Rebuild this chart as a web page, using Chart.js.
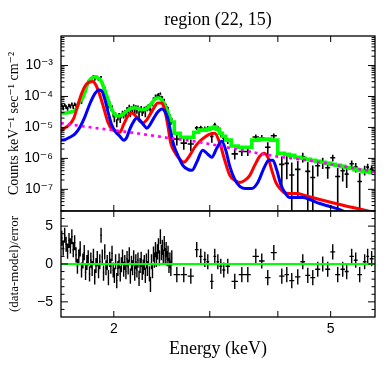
<!DOCTYPE html>
<html>
<head>
<meta charset="utf-8">
<script src="https://cdn.jsdelivr.net/npm/chart.js@4.4.1/dist/chart.umd.min.js"></script>
<style>
  html, body { margin: 0; padding: 0; background: #fff; }
  canvas { display: block; }
</style>
</head>
<body>
<canvas id="spectrum" width="392" height="370"></canvas>
<script>
// ---- spectrum bins (keV) ----
const binE = [
  1.605, 1.615, 1.625, 1.635, 1.645, 1.655, 1.665, 1.675, 1.685, 1.695,
  1.705, 1.715, 1.725, 1.735, 1.745, 1.755, 1.765, 1.775, 1.785, 1.795,
  1.805, 1.815, 1.825, 1.835, 1.845, 1.855, 1.865, 1.875, 1.885, 1.895,
  1.905, 1.915, 1.925, 1.935, 1.945, 1.955, 1.965, 1.975, 1.985, 1.995,
  2.005, 2.015, 2.025, 2.035, 2.045, 2.055, 2.065, 2.075, 2.085, 2.095,
  2.105, 2.115, 2.125, 2.135, 2.145, 2.155, 2.165, 2.175, 2.185, 2.195,
  2.205, 2.215, 2.225, 2.235, 2.245, 2.255, 2.265, 2.275, 2.285, 2.295,
  2.305, 2.315, 2.325, 2.335, 2.345, 2.355, 2.365, 2.375, 2.385, 2.395,
  2.405, 2.415, 2.425, 2.435, 2.445, 2.455, 2.465, 2.475, 2.485, 2.495,
  2.505, 2.515, 2.525, 2.535, 2.545, 2.555,
  2.610, 2.688, 2.769, 2.839, 2.888, 2.938, 2.975, 3.026, 3.064, 3.104,
  3.143, 3.183, 3.237, 3.334, 3.435, 3.523, 3.644, 3.737, 3.833, 3.932,
  4.067, 4.154, 4.242, 4.351, 4.444, 4.539, 4.636, 4.734, 4.835, 4.938,
  5.044, 5.151, 5.261, 5.350, 5.464, 5.558, 5.652, 5.772, 5.846, 5.945
];
const binHalf = [
  0.005, 0.005, 0.005, 0.005, 0.005, 0.005, 0.005, 0.005, 0.005, 0.005,
  0.005, 0.005, 0.005, 0.005, 0.005, 0.005, 0.005, 0.005, 0.005, 0.005,
  0.005, 0.005, 0.005, 0.005, 0.005, 0.005, 0.005, 0.005, 0.005, 0.005,
  0.005, 0.005, 0.005, 0.005, 0.005, 0.005, 0.005, 0.005, 0.005, 0.005,
  0.005, 0.005, 0.005, 0.005, 0.005, 0.005, 0.005, 0.005, 0.005, 0.005,
  0.005, 0.005, 0.005, 0.005, 0.005, 0.005, 0.005, 0.005, 0.005, 0.005,
  0.005, 0.005, 0.005, 0.005, 0.005, 0.005, 0.005, 0.005, 0.005, 0.005,
  0.005, 0.005, 0.005, 0.005, 0.005, 0.005, 0.005, 0.005, 0.005, 0.005,
  0.005, 0.005, 0.005, 0.005, 0.005, 0.005, 0.005, 0.005, 0.005, 0.005,
  0.005, 0.005, 0.005, 0.005, 0.005, 0.005,
  0.035, 0.036, 0.036, 0.022, 0.022, 0.018, 0.018, 0.022, 0.018, 0.018,
  0.020, 0.020, 0.030, 0.045, 0.045, 0.045, 0.050, 0.045, 0.045, 0.050,
  0.045, 0.040, 0.045, 0.050, 0.045, 0.048, 0.048, 0.050, 0.050, 0.052,
  0.052, 0.055, 0.050, 0.045, 0.050, 0.045, 0.055, 0.045, 0.035, 0.050
];
// counts keV^-1 s^-1 cm^-2
const counts = [
  5.09e-5, 4.25e-5, 5.34e-5, 4.57e-5, 4.09e-5, 5.16e-5, 4.77e-5, 5.72e-5, 4.69e-5, 5.67e-5,
  4.97e-5, 4.52e-5, 6.73e-5, 9.28e-5, 6.93e-5, 9.84e-5, 1.37e-4, 1.47e-4, 2.23e-4, 3.06e-4,
  2.92e-4, 3.87e-4, 3.77e-4, 4.58e-4, 3.64e-4, 4.15e-4, 4.34e-4, 3.53e-4, 3.66e-4, 4.28e-4,
  2.85e-4, 1.81e-4, 1.86e-4, 1.16e-4, 9.92e-5, 5.21e-5, 6.09e-5, 4.16e-5, 4.57e-5, 2.69e-5,
  1.97e-5, 2.58e-5, 1.43e-5, 2.08e-5, 2.50e-5, 1.81e-5, 2.41e-5, 3.02e-5, 2.46e-5, 3.13e-5,
  2.67e-5, 3.93e-5, 3.41e-5, 4.71e-5, 2.86e-5, 4.21e-5, 3.82e-5, 4.84e-5, 3.32e-5, 4.46e-5,
  3.54e-5, 4.41e-5, 2.61e-5, 3.73e-5, 4.22e-5, 3.04e-5, 3.52e-5, 3.95e-5, 2.83e-5, 4.31e-5,
  3.90e-5, 5.09e-5, 4.15e-5, 3.57e-5, 6.16e-5, 5.72e-5, 8.48e-5, 8.45e-5, 1.05e-4, 9.42e-5,
  1.07e-4, 1.17e-4, 9.73e-5, 1.24e-4, 9.48e-5, 9.32e-5, 7.24e-5, 7.71e-5, 5.61e-5, 5.27e-5,
  4.16e-5, 3.93e-5, 2.45e-5, 2.32e-5, 1.54e-5, 1.73e-5,
  4.2e-6, 3.1e-6, 2.9e-6, 9.7e-6, 9.8e-6, 9.2e-6, 9.3e-6, 5.1e-6, 1.22e-5, 9.3e-6,
  6.1e-6, 4.4e-6, 3.7e-6, 1.4e-6, 1.66e-6, 1.66e-6, 4.9e-6, 4.6e-6, 2.3e-6, 5.4e-6,
  6.4e-7, 6.9e-7, 2.9e-7, 4.4e-7, 1.13e-6, 3.8e-7, 2.4e-7, 5.8e-7, 7.5e-7, 5.0e-7,
  1.05e-6, 2.6e-7, 4.0e-7, 3.1e-7, 6.7e-7, 5.3e-7, 1.8e-7, 4.3e-7, 5.2e-7, 4.5e-7
];
const countErr = [
  6.4e-6, 6.4e-6, 6.4e-6, 6.4e-6, 6.6e-6, 6.8e-6, 6.9e-6, 7.0e-6, 7.3e-6, 7.7e-6,
  8.6e-6, 7.1e-6, 8.9e-6, 1.07e-5, 1.18e-5, 1.39e-5, 1.09e-5, 1.47e-5, 1.97e-5, 2.57e-5,
  2.98e-5, 3.33e-5, 3.59e-5, 3.78e-5, 3.87e-5, 3.81e-5, 3.67e-5, 3.46e-5, 3.20e-5, 2.87e-5,
  2.38e-5, 1.83e-5, 1.47e-5, 1.09e-5, 1.44e-5, 1.07e-5, 9.9e-6, 7.9e-6, 6.6e-6, 5.7e-6,
  4.9e-6, 4.4e-6, 4.2e-6, 4.2e-6, 4.2e-6, 4.2e-6, 4.4e-6, 4.7e-6, 5.1e-6, 5.4e-6,
  5.9e-6, 6.3e-6, 6.6e-6, 7.0e-6, 7.2e-6, 7.5e-6, 7.6e-6, 7.6e-6, 7.6e-6, 7.6e-6,
  7.5e-6, 7.3e-6, 7.1e-6, 7.0e-6, 6.9e-6, 6.8e-6, 6.8e-6, 6.9e-6, 7.0e-6, 7.2e-6,
  5.5e-6, 5.9e-6, 6.5e-6, 7.2e-6, 7.7e-6, 8.4e-6, 9.4e-6, 1.03e-5, 1.09e-5, 1.14e-5,
  1.15e-5, 1.16e-5, 1.15e-5, 1.09e-5, 1.03e-5, 9.4e-6, 8.4e-6, 7.4e-6, 6.4e-6, 5.5e-6,
  7.3e-6, 6.1e-6, 5.1e-6, 4.2e-6, 3.5e-6, 3.0e-6,
  1.6e-6, 1.2e-6, 1.2e-6, 1.4e-6, 1.6e-6, 1.6e-6, 1.8e-6, 1.9e-6, 2.0e-6, 1.8e-6,
  1.3e-6, 1.0e-6, 8.0e-7, 4.8e-7, 4.6e-7, 4.6e-7, 9.8e-7, 1.05e-6, 1.05e-6, 9.8e-7,
  5.1e-7, 4.8e-7, 4.4e-7, 3.8e-7, 4.0e-7, 3.8e-7, 3.5e-7, 3.2e-7, 3.0e-7, 2.8e-7,
  2.6e-7, 2.4e-7, 2.2e-7, 2.0e-7, 1.9e-7, 1.8e-7, 1.6e-7, 1.5e-7, 1.5e-7, 1.4e-7
];
// folded total model, same bins
const modelTotal = [
  2.91e-5, 2.91e-5, 2.91e-5, 2.91e-5, 2.98e-5, 3.07e-5, 3.12e-5, 3.19e-5, 3.31e-5, 3.51e-5,
  3.93e-5, 4.73e-5, 5.93e-5, 7.14e-5, 7.87e-5, 9.28e-5, 1.21e-4, 1.63e-4, 2.19e-4, 2.85e-4,
  3.31e-4, 3.70e-4, 3.99e-4, 4.20e-4, 4.30e-4, 4.23e-4, 4.08e-4, 3.84e-4, 3.56e-4, 3.19e-4,
  2.64e-4, 2.03e-4, 1.63e-4, 1.21e-4, 9.63e-5, 7.14e-5, 5.50e-5, 4.40e-5, 3.65e-5, 3.14e-5,
  2.70e-5, 2.45e-5, 2.36e-5, 2.33e-5, 2.33e-5, 2.36e-5, 2.45e-5, 2.60e-5, 2.81e-5, 3.02e-5,
  3.26e-5, 3.49e-5, 3.67e-5, 3.87e-5, 4.02e-5, 4.14e-5, 4.20e-5, 4.23e-5, 4.23e-5, 4.23e-5,
  4.14e-5, 4.05e-5, 3.96e-5, 3.87e-5, 3.81e-5, 3.79e-5, 3.79e-5, 3.81e-5, 3.87e-5, 4.02e-5,
  4.23e-5, 4.56e-5, 4.99e-5, 5.50e-5, 5.93e-5, 6.48e-5, 7.25e-5, 7.93e-5, 8.42e-5, 8.74e-5,
  8.87e-5, 8.94e-5, 8.81e-5, 8.42e-5, 7.93e-5, 7.25e-5, 6.48e-5, 5.71e-5, 4.91e-5, 4.23e-5,
  3.65e-5, 3.07e-5, 2.55e-5, 2.11e-5, 1.75e-5, 1.49e-5,
  6.5e-6, 4.8e-6, 4.8e-6, 7.0e-6, 8.2e-6, 8.2e-6, 8.8e-6, 9.5e-6, 1.02e-5, 8.8e-6,
  6.5e-6, 5.2e-6, 3.9e-6, 2.5e-6, 2.3e-6, 2.3e-6, 3.9e-6, 4.2e-6, 4.2e-6, 3.9e-6,
  1.46e-6, 1.36e-6, 1.26e-6, 1.09e-6, 1.01e-6, 9.4e-7, 8.7e-7, 8.0e-7, 7.5e-7, 6.9e-7,
  6.4e-7, 6.0e-7, 5.5e-7, 5.1e-7, 4.8e-7, 4.4e-7, 4.1e-7, 3.8e-7, 3.7e-7, 3.5e-7
];
// (data-model)/error
const residual = [
  3.4, 2.1, 3.8, 2.6, 1.7, 3.1, 2.4, 3.6, 1.9, 2.8,
  1.2, -0.3, 0.9, 2.0, -0.8, 0.4, 1.5, -1.1, 0.2, 0.8,
  -1.3, 0.5, -0.6, 1.0, -1.7, -0.2, 0.7, -0.9, 0.3, 3.8,
  0.9, -1.2, 1.6, -0.5, 0.2, -1.8, 0.6, -0.3, 1.4, -0.8,
  -1.5, 0.3, -2.2, -0.6, 0.4, -1.3, -0.1, 0.9, -0.7, 0.2,
  -1.0, 0.7, -0.4, 1.2, -1.6, 0.1, -0.5, 0.8, -1.2, 0.3,
  -0.8, 0.5, -1.9, -0.2, 0.6, -1.1, -0.4, 0.2, -1.5, 0.4,
  -0.6, 0.9, -1.3, -2.7, 0.3, -0.9, 1.3, 0.5, 1.9, 0.6,
  1.6, 2.4, 0.8, 3.6, 1.5, 2.2, 0.9, 2.7, 1.1, 1.9,
  0.7, 1.4, -0.2, 0.5, -0.6, 0.8,
  -1.4, -1.4, -1.6, 1.9, 1.0, 0.6, 0.3, -2.3, 1.0, 0.3,
  -0.3, -0.8, -0.3, -2.3, -1.4, -1.4, 1.0, 0.4, -1.8, 1.5,
  -1.6, -1.4, -2.2, -1.7, 0.3, -1.5, -1.8, -0.7, 0.0, -0.7,
  1.6, -1.4, -0.7, -1.0, 1.0, 0.5, -1.4, 0.3, 1.0, 0.7
];
// the first 96 bins are narrow: model drawn smooth there, as a histogram above
const narrowBins = 96;

// ---- model components ----
const redE = [
  1.599, 1.626, 1.661, 1.689, 1.718, 1.747, 1.777, 1.807, 1.830, 1.854, 1.885, 1.917, 1.950, 1.983, 2.017, 2.051,
  2.086, 2.122, 2.158, 2.195, 2.232, 2.261, 2.289, 2.328, 2.368, 2.408, 2.449, 2.480, 2.512, 2.544, 2.588, 2.643,
  2.688, 2.757, 2.815, 2.876, 2.938, 3.000, 3.064, 3.130, 3.196, 3.265, 3.334, 3.406, 3.478, 3.553, 3.628, 3.706,
  3.770, 3.834, 3.899, 3.966, 4.033, 4.102, 4.206, 4.333, 4.482, 4.775, 5.197, 5.655, 6.025
];
const redV = [
  7.59e-6, 9.48e-6, 1.28e-5, 2.00e-5, 5.30e-5, 1.30e-4, 2.36e-4, 2.96e-4, 3.07e-4, 2.36e-4, 1.12e-4, 4.23e-5,
  1.49e-5, 8.81e-6, 7.59e-6, 7.03e-6, 1.28e-5, 2.33e-5, 2.91e-5, 2.33e-5, 1.60e-5, 1.38e-5, 1.60e-5, 2.51e-5,
  4.23e-5, 6.15e-5, 6.15e-5, 3.65e-5, 1.19e-5, 3.09e-6, 1.58e-6, 9.35e-7, 7.47e-7, 1.26e-6, 2.29e-6, 3.59e-6,
  4.84e-6, 6.05e-6, 6.53e-6, 3.09e-6, 8.68e-7, 2.83e-7, 1.95e-7, 1.67e-7, 1.95e-7, 2.83e-7, 5.97e-7, 1.17e-6,
  1.46e-6, 1.09e-6, 4.11e-7, 1.67e-7, 1.07e-7, 7.93e-8, 7.36e-8, 7.36e-8, 6.34e-8, 4.70e-8, 3.24e-8, 2.31e-8, 1.78e-8
];
const blueE = [
  1.599, 1.626, 1.661, 1.696, 1.733, 1.769, 1.807, 1.845, 1.877, 1.901, 1.925, 1.950, 1.983, 2.017, 2.051, 2.086,
  2.113, 2.140, 2.177, 2.204, 2.232, 2.270, 2.299, 2.328, 2.368, 2.408, 2.449, 2.480, 2.512, 2.544, 2.577, 2.621,
  2.677, 2.734, 2.781, 2.839, 2.912, 2.975, 3.026, 3.090, 3.156, 3.210, 3.265, 3.334, 3.406, 3.478, 3.583, 3.675,
  3.770, 3.851, 3.916, 3.983, 4.050, 4.119, 4.206, 4.333, 4.444, 4.577, 4.775, 4.982, 5.197, 5.353, 5.537
];
const blueV = [
  3.87e-6, 4.0e-6, 4.84e-6, 6.05e-6, 1.02e-5, 2.16e-5, 5.71e-5, 1.21e-4, 1.63e-4, 1.51e-4, 8.30e-5, 3.38e-5,
  1.19e-5, 7.03e-6, 5.22e-6, 3.87e-6, 4.84e-6, 8.81e-6, 1.60e-5, 2.00e-5, 1.73e-5, 1.19e-5, 9.48e-6, 1.19e-5,
  2.00e-5, 3.14e-5, 3.93e-5, 3.38e-5, 2.00e-5, 7.03e-6, 2.66e-6, 1.26e-6, 5.97e-7, 4.43e-7, 4.11e-7, 7.47e-7,
  1.83e-6, 1.36e-6, 1.09e-6, 2.13e-6, 3.59e-6, 1.83e-6, 5.54e-7, 2.10e-7, 1.24e-7, 1.07e-7, 1.07e-7, 1.67e-7,
  4.77e-7, 8.68e-7, 8.68e-7, 4.11e-7, 1.44e-7, 7.93e-8, 5.46e-8, 5.46e-8, 5.46e-8, 4.70e-8, 3.48e-8, 2.79e-8,
  2.22e-8, 1.78e-8, 1.42e-8
];
const contE = [1.599, 1.830, 2.095, 2.502, 2.876, 3.363, 3.916, 4.577, 5.197, 6.025];
const contV = [1.38e-5, 9.85e-6, 7.31e-6, 4.67e-6, 3.33e-6, 1.97e-6, 1.21e-6, 8.36e-7, 5.75e-7, 3.67e-7];

// ---- axes ----
const xMin = 1.6, xMax = 6.03;
const xLabelVals = [2, 5];
const xMarkVals = [2, 3, 4, 5];
const yTopTicks = [1e-7, 1e-6, 1e-5, 1e-4, 1e-3];
const yTopLabels = ['10⁻⁷', '10⁻⁶', '10⁻⁵', '10⁻⁴', '10⁻³'];
const resTicks = [-5, 0, 5];

const serif = 'Liberation Serif, "DejaVu Serif", serif';
const sans = 'Liberation Sans, "DejaVu Sans", sans-serif';

const xy = (xs, ys) => xs.map((x, i) => ({x, y: ys[i]}));

// error bars as broken line segments
const hBars = [], vBars = [], rhBars = [], rvBars = [];
binE.forEach((e, i) => {
  const lo = e - binHalf[i], hi = e + binHalf[i];
  const down = counts[i] - countErr[i];
  hBars.push({x: lo, y: counts[i]}, {x: hi, y: counts[i]}, {x: e, y: null});
  vBars.push({x: e, y: down > 0 ? down : 1e-12}, {x: e, y: counts[i] + countErr[i]}, {x: e, y: null});
  rhBars.push({x: lo, y: residual[i]}, {x: hi, y: residual[i]}, {x: e, y: null});
  rvBars.push({x: e, y: residual[i] - 1}, {x: e, y: residual[i] + 1}, {x: e, y: null});
});
const modelPts = xy(binE, modelTotal);

// keep each dataset inside its own panel
const panelClip = {
  id: 'panelClip',
  beforeDatasetDraw(chart, args) {
    const ys = args.meta.yScale, ca = chart.chartArea, ctx = chart.ctx;
    ctx.save();
    ctx.beginPath();
    ctx.rect(ca.left, ys.top, ca.right - ca.left, ys.bottom - ys.top);
    ctx.clip();
  },
  afterDatasetDraw(chart) {
    chart.ctx.restore();
  }
};

// panel frames with inward tick marks
const frame = {
  id: 'frame',
  afterDatasetsDraw(chart) {
    const {ctx, chartArea: ca, scales} = chart;
    const x = scales.x, top = scales.yTop, res = scales.yRes;
    const seg = (x0, y0, x1, y1) => { ctx.moveTo(x0, y0); ctx.lineTo(x1, y1); };
    ctx.save();
    ctx.strokeStyle = '#000';
    ctx.lineWidth = 1;
    ctx.beginPath();
    [top, res].forEach(s => {
      xMarkVals.forEach(v => {
        const px = x.getPixelForValue(v);
        seg(px, s.top, px, s.top + 6);
        seg(px, s.bottom, px, s.bottom - 6);
      });
    });
    for (let p = -8; p <= -2; p++) {
      for (let k = 1; k <= 9; k++) {
        const v = k * Math.pow(10, p);
        if (v < top.min || v > top.max) continue;
        const py = top.getPixelForValue(v);
        const len = k === 1 ? 7 : 3.5;
        seg(ca.left, py, ca.left + len, py);
        seg(ca.right, py, ca.right - len, py);
      }
    }
    for (let v = -6; v <= 6; v++) {
      const py = res.getPixelForValue(v);
      const len = v % 5 === 0 ? 7 : 3.5;
      seg(ca.left, py, ca.left + len, py);
      seg(ca.right, py, ca.right - len, py);
    }
    ctx.stroke();
    ctx.lineWidth = 1.3;
    [top, res].forEach(s => ctx.strokeRect(ca.left, s.top, ca.right - ca.left, s.bottom - s.top));
    ctx.restore();
  }
};

const hiddenGrid = {display: false, drawTicks: false};

new Chart(document.getElementById('spectrum'), {
  type: 'line',
  data: {
    datasets: [
      {label: 'zero', data: [{x: xMin, y: 0}, {x: xMax, y: 0}], yAxisID: 'yRes',
       borderColor: '#00ff00', borderWidth: 2, order: 0},
      {label: 'res x', data: rhBars, yAxisID: 'yRes', borderColor: '#000', borderWidth: 1.4, order: 1},
      {label: 'res y', data: rvBars, yAxisID: 'yRes', borderColor: '#000', borderWidth: 1.4, order: 2},
      {label: 'continuum', data: xy(contE, contV), yAxisID: 'yTop', borderColor: '#ff00ff',
       borderWidth: 2.6, borderDash: [3, 4], cubicInterpolationMode: 'monotone', order: 3},
      {label: 'comp 2', data: xy(blueE, blueV), yAxisID: 'yTop', borderColor: '#0000ff',
       borderWidth: 3, cubicInterpolationMode: 'monotone', order: 4},
      {label: 'comp 1', data: xy(redE, redV), yAxisID: 'yTop', borderColor: '#ff0000',
       borderWidth: 3, cubicInterpolationMode: 'monotone', order: 5},
      {label: 'model', data: modelPts.slice(0, narrowBins), yAxisID: 'yTop', borderColor: '#00ff00',
       borderWidth: 3.6, cubicInterpolationMode: 'monotone', order: 6},
      {label: 'model hist', data: modelPts.slice(narrowBins - 1), yAxisID: 'yTop', borderColor: '#00ff00',
       borderWidth: 3.6, stepped: 'middle', order: 6},
      {label: 'data x', data: hBars, yAxisID: 'yTop', borderColor: '#000', borderWidth: 1.6, order: 7},
      {label: 'data y', data: vBars, yAxisID: 'yTop', borderColor: '#000', borderWidth: 1.6, order: 8}
    ]
  },
  options: {
    responsive: false,
    animation: false,
    events: [],
    layout: {padding: {left: 0, right: 17, top: 0, bottom: 0}},
    elements: {point: {radius: 0}, line: {tension: 0}},
    plugins: {
      legend: {display: false},
      tooltip: {enabled: false},
      title: {
        display: true, text: 'region (22, 15)', fullSize: false, color: '#000',
        font: {family: serif, size: 18, weight: 'normal'}, padding: {top: 9, bottom: 5.4}
      }
    },
    scales: {
      x: {
        type: 'logarithmic', position: 'bottom', min: xMin, max: xMax,
        grid: hiddenGrid, border: {display: false},
        afterBuildTicks: s => { s.ticks = xLabelVals.map(v => ({value: v})); },
        afterFit: s => { s.height = 53; },
        ticks: {autoSkip: false, maxRotation: 0, padding: 4, color: '#000',
                font: {family: sans, size: 14}, callback: v => String(v)},
        title: {display: true, text: 'Energy (keV)', color: '#000',
                font: {family: serif, size: 18}, padding: {top: 0, bottom: 10}}
      },
      yTop: {
        type: 'logarithmic', position: 'left', stack: 'panels', stackWeight: 1.65, weight: 2,
        min: 2e-8, max: 9e-3,
        grid: hiddenGrid, border: {display: false},
        afterBuildTicks: s => { s.ticks = yTopTicks.map(v => ({value: v})); },
        afterFit: s => { s.width = 61; },
        ticks: {autoSkip: false, padding: 8, color: '#000', font: {family: sans, size: 14},
                callback: (v, i) => yTopLabels[i]},
        title: {display: true, text: 'Counts keV⁻¹ sec⁻¹ cm⁻²', color: '#000',
                font: {family: serif, size: 14}, padding: {top: 6, bottom: 0}}
      },
      yRes: {
        type: 'linear', position: 'left', stack: 'panels', stackWeight: 1, weight: 1,
        min: -7, max: 7,
        grid: hiddenGrid, border: {display: false},
        afterBuildTicks: s => { s.ticks = resTicks.map(v => ({value: v})); },
        afterFit: s => { s.width = 61; },
        ticks: {autoSkip: false, padding: 8, color: '#000', font: {family: sans, size: 14},
                callback: v => (v < 0 ? '−' + Math.abs(v) : String(v))},
        title: {display: true, text: '(data-model)/error', color: '#000',
                font: {family: serif, size: 13}, padding: {top: 7, bottom: 0}}
      }
    }
  },
  plugins: [panelClip, frame]
});
</script>
</body>
</html>
